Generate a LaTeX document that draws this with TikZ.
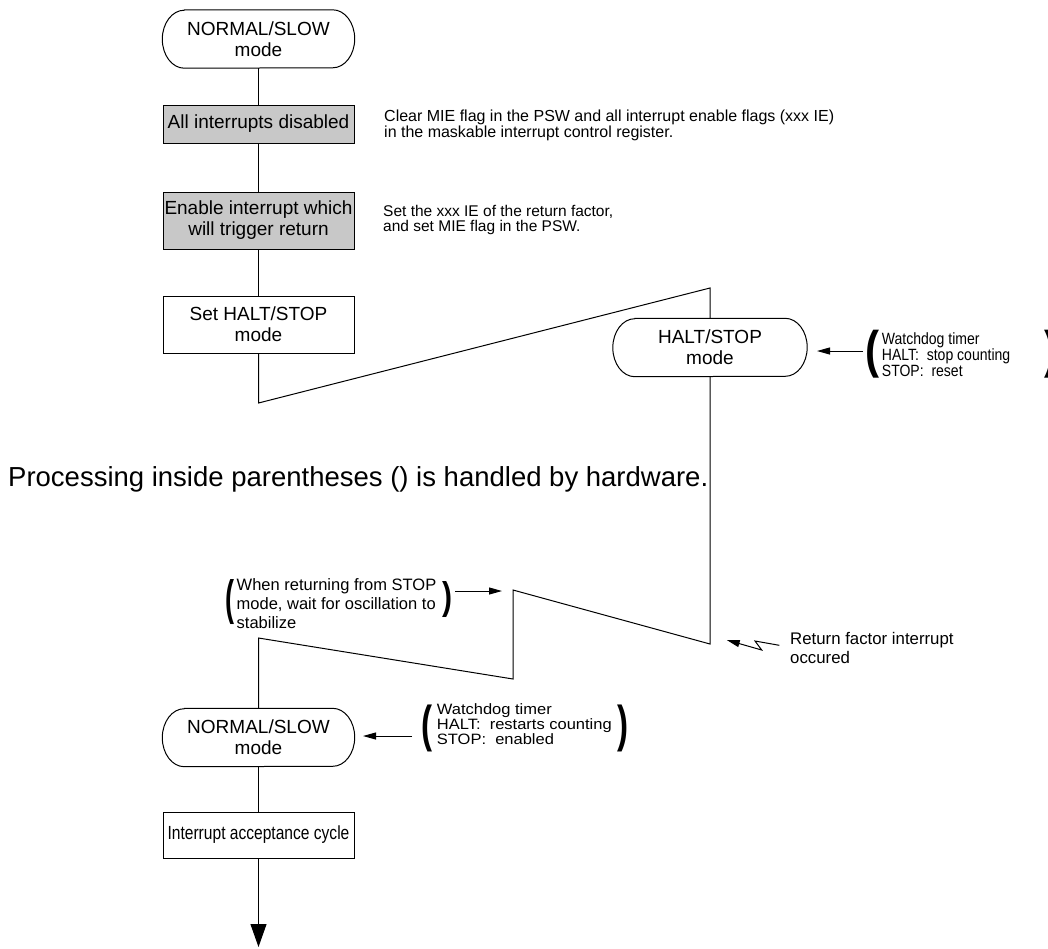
\documentclass[tikz,border=0pt]{standalone}
\usepackage{fontspec}
\setmainfont{Liberation Sans}
\usepackage{graphicx}
\usetikzlibrary{arrows.meta}

\definecolor{boxgray}{RGB}{200,200,200}

% font size / leading shortcut
\newcommand{\fsz}[2]{\fontsize{#1pt}{#2pt}\selectfont}
% horizontally scaled block of left-aligned lines
\newcommand{\cond}[2]{\scalebox{#1}[1]{\begin{tabular}{@{}l@{}}#2\end{tabular}}}
% tall bold parenthesis of given width, total height and glyph
\newcommand{\bigpar}[3]{\resizebox*{#1}{#2}{\bfseries #3}}
% stadium outline around a (borderless) node
\newcommand{\stadium}[1]{%
  \draw[wire] ([xshift=22pt]#1.north west) -- ([xshift=-22pt]#1.north east)
    arc[start angle=90,end angle=-90,x radius=22pt,y radius=29pt]
    -- ([xshift=22pt]#1.south west)
    arc[start angle=270,end angle=90,x radius=22pt,y radius=29pt] -- cycle;}

\tikzset{
  wire/.style={line width=1pt, draw=black},
  flowbox/.style={draw, line width=1pt, minimum width=191pt, inner sep=0pt,
    align=center, font=\fsz{19}{21}},
  grayfill/.style={fill=boxgray},
  termnode/.style={minimum width=192pt, minimum height=58pt, inner sep=0pt,
    align=center, font=\fsz{19}{21}},
  note/.style={align=left, anchor=west, inner sep=0pt},
  paren/.style={inner sep=0pt},
  smallarrow/.style={-{Triangle[length=13pt,width=7pt]}, line width=1pt},
  bigarrow/.style={-{Triangle[length=23pt,width=16pt]}, line width=1pt},
}

\begin{document}
\begin{tikzpicture}[x=1pt,y=-1pt]
\useasboundingbox (0,0) rectangle (1048,948);

% ---- main flow ----
\node[termnode] (n1) at (258.5,39) {NORMAL/SLOW\\mode};
\stadium{n1}
\node[flowbox, grayfill, minimum height=38pt] (b1) at (258.5,124) {All interrupts disabled};
\node[flowbox, grayfill, minimum height=57pt] (b2) at (258.5,220.5) {Enable interrupt which\\will trigger return};
\node[flowbox, minimum height=57pt] (b3) at (258.5,324.5) {Set HALT/STOP\\mode};
\node[termnode, minimum width=194pt] (halt) at (710,347.5) {HALT/STOP\\mode};
\stadium{halt}
\node[termnode] (n2) at (258.5,737.5) {NORMAL/SLOW\\mode};
\stadium{n2}
\node[flowbox, minimum height=46pt] (b4) at (258.5,835) {\scalebox{0.82}[1]{Interrupt acceptance cycle}};

\coordinate (z1) at (258.5,403);
\coordinate (z2) at (710,288);
\coordinate (z3) at (710,644);
\coordinate (z4) at (513,590);
\coordinate (z5) at (513,679);
\coordinate (z6) at (258.5,638);
\coordinate (tip) at (258.5,947);

\draw[wire] (n1.south) -- (b1.north);
\draw[wire] (b1.south) -- (b2.north);
\draw[wire] (b2.south) -- (b3.north);
\draw[wire] (b3.south) -- (z1) -- (z2) -- (halt.north);
\draw[wire] (halt.south) -- (z3) -- (z4) -- (z5) -- (z6) -- (n2.north);
\draw[wire] (n2.south) -- (b4.north);
\draw[wire, bigarrow] (b4.south) -- (tip);

% ---- side notes ----
\node[note, font=\fsz{16}{14}] (c1) at (384,125)
  {Clear MIE flag in the PSW and all interrupt enable flags (xxx IE)\\in the maskable interrupt control register.};
\node[note, font=\fsz{15.5}{15.5}] (c2) at (383,220)
  {Set the xxx IE of the return factor,\\and set MIE flag in the PSW.};

% watchdog while halted
\node[paren] (lp1) at (872,354) {\bigpar{14pt}{48pt}{(}};
\node[note, font=\fsz{16.3}{15.5}] (w1) at (881.7,357)
  {\cond{0.86}{Watchdog timer\\HALT:\ \ stop counting\\STOP:\ \ reset}};
\node[paren] (rp1) at (1051,354) {\bigpar{13pt}{48pt}{)}};
\coordinate (w1a) at (863,351);
\coordinate (haltin) at (817,351);
\draw[smallarrow] (w1a) -- (haltin);

\node[note, font=\fsz{27.5}{30}] (proc) at (8,479)
  {Processing inside parentheses () is handled by hardware.};

% oscillation stabilization
\node[paren] (lp2) at (230,602.5) {\bigpar{9pt}{45pt}{(}};
\node[note, font=\fsz{16.5}{19}] (osc) at (236.5,604)
  {When returning from STOP\\mode, wait for oscillation to\\stabilize};
\node[paren] (rp2) at (447,599.5) {\bigpar{10pt}{36pt}{)}};
\coordinate (osca) at (455,591);
\coordinate (oscb) at (502,591);
\draw[smallarrow] (osca) -- (oscb);

% return factor interrupt
\node[note, font=\fsz{16.8}{19}] (rf) at (790,647.5) {Return factor interrupt\\occured};
\coordinate (l0) at (779.3,645.3);
\coordinate (l1) at (755,641);
\coordinate (l2) at (761.7,650);
\coordinate (l3) at (726.7,640);
\draw[smallarrow] (l0) -- (l1) -- (l2) -- (l3);

% watchdog after return
\node[paren] (lp3) at (426.5,728.5) {\bigpar{11pt}{47pt}{(}};
\node[note, font=\fsz{15}{13}] (w3) at (436.7,726)
  {\cond{1.1}{Watchdog timer\\HALT:\ \ restarts counting\\STOP:\ \ enabled}};
\node[paren] (rp3) at (622.5,728.5) {\bigpar{11pt}{47pt}{)}};
\coordinate (w3a) at (412,736);
\coordinate (n2in) at (363,736);
\draw[smallarrow] (w3a) -- (n2in);

\end{tikzpicture}
\end{document}
